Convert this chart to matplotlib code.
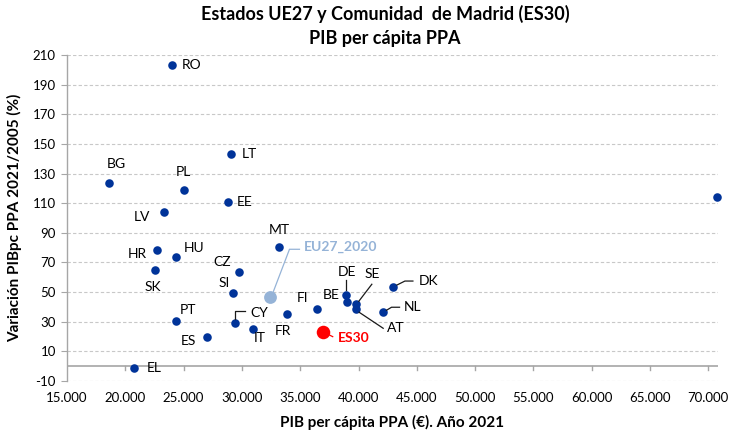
import matplotlib
matplotlib.use("Agg")
import matplotlib.pyplot as plt
from matplotlib.lines import Line2D

# ---------------- data ----------------
countries = ["RO", "LT", "BG", "PL", "EE", "LV", "HR", "HU", "SK", "CZ", "SI", "MT",
             "PT", "CY", "IT", "ES", "FR", "FI", "EL", "DE", "BE", "SE", "AT", "DK",
             "NL", "LU"]
gdp_pc = [24000, 29050, 18630, 25070, 28840, 23350, 22690, 24330, 22550, 29730, 29270, 33160,
          24330, 29410, 30930, 27010, 33850, 36420, 20750, 38940, 38990, 39770, 39800, 42950,
          42060, 70750]
growth = [203.3, 143.0, 123.4, 118.7, 111.0, 104.0, 78.6, 73.5, 65.1, 63.6, 49.4, 80.4,
          30.3, 29.3, 25.3, 19.5, 35.2, 38.8, -1.4, 47.8, 43.3, 41.8, 38.4, 53.4,
          36.4, 114.2]

eu_label = "EU27_2020"
eu_gdp = 32450
eu_growth = 46.5

madrid_label = "ES30"
madrid_gdp = 36930
madrid_growth = 23.3

x_ticks = [15000, 20000, 25000, 30000, 35000, 40000, 45000, 50000, 55000, 60000, 65000, 70000]
x_tick_labels = ["15.000", "20.000", "25.000", "30.000", "35.000", "40.000", "45.000",
                 "50.000", "55.000", "60.000", "65.000", "70.000"]
y_ticks = [-10, 10, 30, 50, 70, 90, 110, 130, 150, 170, 190, 210]

title = "Estados UE27 y Comunidad  de Madrid (ES30)\nPIB per cápita PPA"
x_title = "PIB per cápita PPA (€). Año 2021"
y_title = "Variación PIBpc PPA 2021/2005 (%)"

# label placement (pixel offsets from point, y up), alignment, optional leader polyline
label_pos = {
    "RO": (10, 0, "left", None),
    "LT": (11, 0, "left", None),
    "BG": (7, 19, "center", None),
    "PL": (-1, 18, "center", None),
    "EE": (8, 0, "left", None),
    "LV": (-14, -5, "right", None),
    "HR": (-10, -4, "right", None),
    "HU": (8, 9, "left", None),
    "SK": (-2, -17, "center", None),
    "CZ": (-17, 10, "center", None),
    "SI": (-9, 10, "center", None),
    "MT": (1, 17, "center", None),
    "PT": (12, 11, "center", None),
    "CY": (15, 10, "left", [(0, 4), (0, 12), (10, 12)]),
    "IT": (7, -9, "center", None),
    "ES": (-19, -4, "center", None),
    "FR": (-4, -17, "center", None),
    "FI": (-14, 11, "center", None),
    "EL": (13, 0, "left", None),
    "DE": (1, 23, "center", [(0, 5), (0, 15)]),
    "BE": (-16, 7, "center", None),
    "SE": (16, 30, "center", [(3, 3), (16, 20)]),
    "AT": (31, -19, "left", [(3, -3), (27, -19)]),
    "DK": (26, 6, "left", [(4, 2), (12, 6), (20, 6)]),
    "NL": (21, 5, "left", [(4, 2), (9, 5), (17, 5)]),
}

# ---------------- style ----------------
plt.rcParams["font.family"] = ["Lato", "DejaVu Sans"]
DPI = 100
fig = plt.figure(figsize=(7.29, 4.37), dpi=DPI)
ax = fig.add_axes([67 / 729, 1 - 381 / 437, (718 - 67) / 729, (381 - 55) / 437])

blue = "#003399"
light_blue = "#95B3D7"
red = "#FF0000"
grid_c = "#C8C8C8"
axis_c = "#A6A6A6"

ax.set_xlim(15000, 70830)
ax.set_ylim(-10, 210)

for yv in y_ticks:
    ax.axhline(yv, color=grid_c, lw=0.8, ls=(0, (3, 2)), zorder=0)
ax.axhline(0, color=axis_c, lw=1.2, zorder=1)

for s in ["top", "right", "bottom"]:
    ax.spines[s].set_visible(False)
ax.spines["left"].set_color(axis_c)
ax.spines["left"].set_linewidth(1.0)

ax.set_yticks(y_ticks)
ax.set_yticklabels([str(v) for v in y_ticks], fontsize=9.5)
ax.tick_params(axis="y", length=4, color=axis_c, pad=4)

ax.set_xticks(x_ticks)
ax.set_xticklabels(x_tick_labels, fontsize=9.5)
ax.tick_params(axis="x", length=0, pad=8)
# x tick marks sit on the y=0 axis line
for xv in x_ticks[1:]:
    ax.plot([xv, xv], [0, -2.8], color=axis_c, lw=1.0, zorder=1)

ax.set_xlabel(x_title, fontsize=11, fontweight="bold", labelpad=8)
ax.set_ylabel(y_title, fontsize=11, fontweight="bold", labelpad=8)
fig.text(0.528, 0.988, title, ha="center", va="top", fontsize=13,
         fontweight="bold", linespacing=1.45)

# points
ax.scatter(gdp_pc, growth, s=38, color=blue, zorder=3, clip_on=False, linewidths=0)
ax.scatter([eu_gdp], [eu_growth], s=85, color=light_blue, zorder=3, linewidths=0)
ax.scatter([madrid_gdp], [madrid_growth], s=95, color=red, zorder=3, linewidths=0)


def leader(x, y, pts, color):
    px, py = ax.transData.transform((x, y))
    xs = [px + dx for dx, dy in pts]
    ys = [py + dy for dx, dy in pts]
    fig.add_artist(Line2D(xs, ys, transform=None, color=color, lw=0.9, zorder=4))


for c, xv, yv in zip(countries, gdp_pc, growth):
    if c not in label_pos:
        continue
    dx, dy, ha, pts = label_pos[c]
    ax.annotate(c, xy=(xv, yv), xytext=(dx, dy), textcoords="offset pixels",
                ha=ha, va="center", fontsize=10, color="black")
    if pts:
        leader(xv, yv, pts, "#1a1a1a")

ax.annotate(eu_label, xy=(eu_gdp, eu_growth), xytext=(33, 50), textcoords="offset pixels",
            ha="left", va="center", fontsize=10, fontweight="bold", color=light_blue)
leader(eu_gdp, eu_growth, [(3, 6), (19, 48), (29, 48)], light_blue)

ax.annotate(madrid_label, xy=(madrid_gdp, madrid_growth), xytext=(15, -6),
            textcoords="offset pixels", ha="left", va="center", fontsize=10,
            fontweight="bold", color=red)
leader(madrid_gdp, madrid_growth, [(6, -3), (10, -5)], red)

fig.savefig("out.png", dpi=DPI)
